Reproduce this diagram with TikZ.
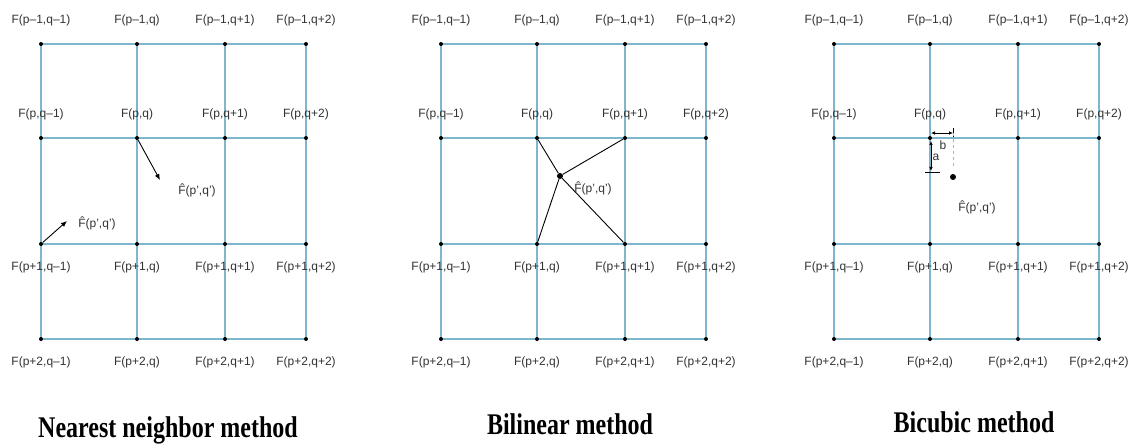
\documentclass[tikz,border=0pt]{standalone}
\usepackage{fontspec}
\setmainfont{Liberation Serif}
\setsansfont{Liberation Sans}
\usetikzlibrary{arrows.meta}

\definecolor{gridblue}{RGB}{125,182,205}
\definecolor{lbltext}{RGB}{50,50,50}
\definecolor{dimorange}{RGB}{235,160,110}

\tikzset{
  gridline/.style={draw=gridblue, line width=1.1pt},
  dot/.style={circle, fill=black, inner sep=0pt, minimum size=4pt},
  lbl/.style={font=\sffamily\fontsize{12}{13}\selectfont, text=lbltext, inner sep=1pt},
  link/.style={line width=0.9pt},
  dimline/.style={line width=0.7pt},
  ttl/.style={font=\bfseries\fontsize{30}{30}\selectfont, xscale=0.8, anchor=base},
}

\begin{document}
\begin{tikzpicture}[x=1pt,y=-1pt]
\useasboundingbox (0,0) rectangle (1132,446);

% grid points of the three panels
\foreach \p/\x in {1/41,2/441,3/834}
  \foreach \c/\dx in {1/0,2/96,3/184,4/265}
    \foreach \r/\y in {1/44,2/138,3/244,4/339}
      \coordinate (g\p-\r-\c) at (\x+\dx,\y);

% grid lines
\foreach \p in {1,2,3} {
  \foreach \k in {1,...,4} {
    \draw[gridline] (g\p-\k-1) -- (g\p-\k-4);
    \draw[gridline] (g\p-1-\k) -- (g\p-4-\k);
  }
}

% sample dots and their labels
\foreach \p in {1,2,3}
  \foreach \c/\ct in {1/q–1,2/q,3/q+1,4/q+2}
    \foreach \r/\rt/\ys in {1/p–1/24,2/p/24,3/p+1/-23,4/p+2/-23} {
      \node[dot] (d\p-\r-\c) at (g\p-\r-\c) {};
      \node[lbl] (l\p-\r-\c) at ([yshift=\ys pt]g\p-\r-\c) {F(\rt,\ct)};
    }

% Panel 1: nearest neighbor
\coordinate (nn1) at (160,180);
\coordinate (nn2) at (67,221);
\draw[link,-{Latex[length=6pt,width=5pt]}] (d1-2-2) -- (nn1);
\draw[link,-{Latex[length=6pt,width=5pt]}] (d1-3-1) -- (nn2);
\node[lbl] (f1) at (197,190) {\^{F}(p',q')};
\node[lbl] (f2) at (97,223) {\^{F}(p',q')};
\node[ttl] (t1) at (168,437) {Nearest neighbor method};

% Panel 2: bilinear
\node[dot, minimum size=6pt] (pb) at (560,176) {};
\foreach \r/\c in {2/2,2/3,3/2,3/3}
  \draw[link] (d2-\r-\c) -- (pb);
\node[lbl] (f3) at (593,188) {\^{F}(p',q')};
\node[ttl] (t2) at (570,434) {Bilinear method};

% Panel 3: bicubic
\node[dot, minimum size=6pt] (pc) at (953,177) {};
\coordinate (b0) at (931,133);
\coordinate (b1) at (953,133);
\coordinate (a0) at (931,141);
\coordinate (a1) at (931,171);
\coordinate (k0) at (925,172);
\coordinate (k1) at (940,172);
\coordinate (o1) at (953,169);
\draw[dimline,{Latex[length=4pt,width=3.5pt]}-{Latex[length=4pt,width=3.5pt]}] (b0) -- (b1);
\draw[dimline] ([yshift=5pt]b1) -- ([yshift=-4pt]b1);
\draw[dimline,{Latex[length=4pt,width=3.5pt]}-{Latex[length=4pt,width=3.5pt]}] (a0) -- (a1);
\draw[dimline] (k0) -- (k1);
\draw[dimorange, dashed, line width=0.6pt] (b1) -- (o1);
\node[lbl] (lb) at (943,145) {b};
\node[lbl] (la) at (936,157) {a};
\node[lbl] (f4) at (977,207) {\^{F}(p',q')};
\node[ttl] (t3) at (974,432) {Bicubic method};
\end{tikzpicture}
\end{document}
